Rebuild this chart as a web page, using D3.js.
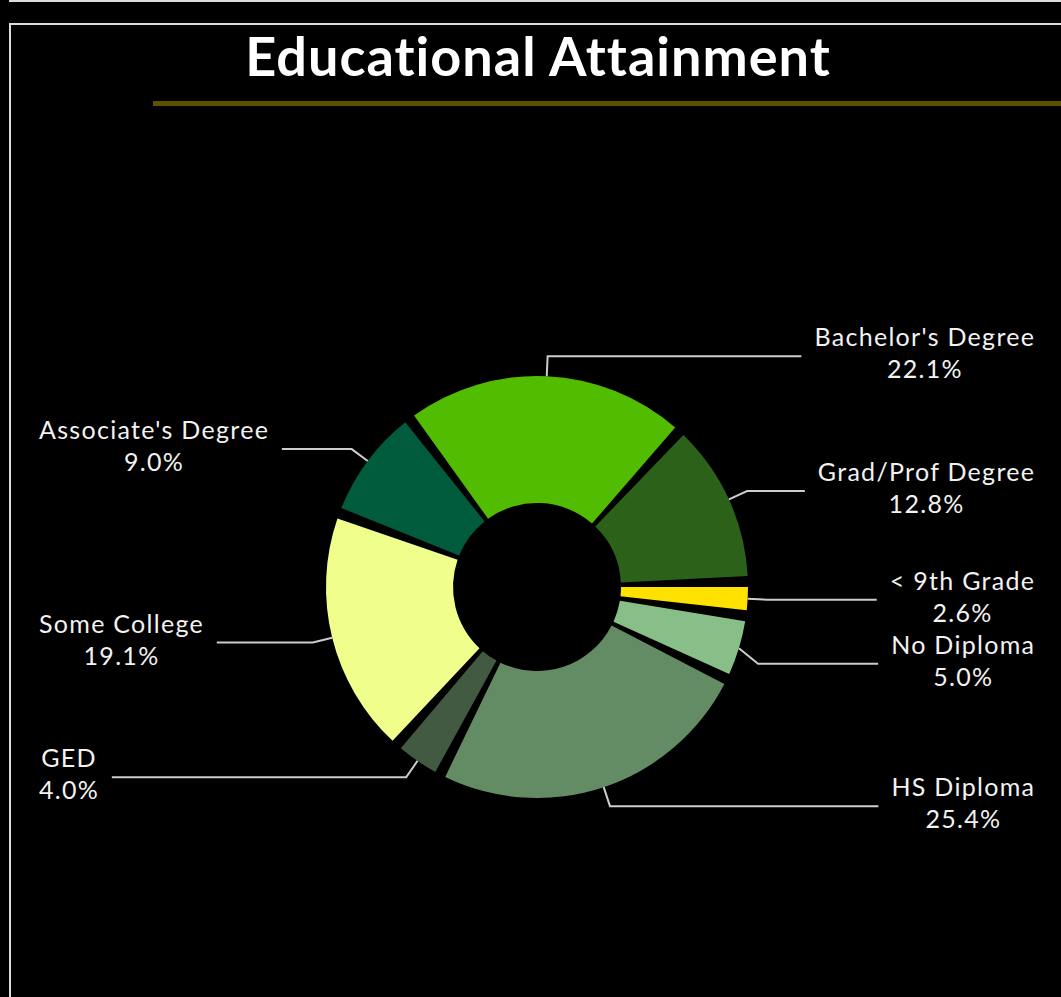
<!DOCTYPE html>
<html>
<head>
<meta charset="utf-8">
<script src="https://cdn.jsdelivr.net/npm/d3@7"></script>
<style>
  html, body { margin: 0; padding: 0; background: #000; }
  svg { display: block; }
  text { font-variant-ligatures: none; }
</style>
</head>
<body>
<svg id="chart" width="1061" height="997"></svg>
<script>
const title = "Educational Attainment";
const categories = ["< 9th Grade", "No Diploma", "HS Diploma", "GED", "Some College", "Associate's Degree", "Bachelor's Degree", "Grad/Prof Degree"];
const values = [2.6, 5.0, 25.4, 4.0, 19.1, 9.0, 22.1, 12.8];
const colors = ["#ffe100", "#88bf88", "#648c64", "#415a41", "#f0ff8c", "#005c3c", "#52bc00", "#2b6118"];

const W = 1061, H = 997;
const svg = d3.select("#chart");
const FONT = "Lato, 'Open Sans', sans-serif";

svg.append("rect").attr("width", W).attr("height", H).attr("fill", "#000");

// frame lines
svg.append("line").attr("x1", 9).attr("x2", W).attr("y1", 1).attr("y2", 1)
  .attr("stroke", "#dcdcdc").attr("stroke-width", 2);
svg.append("path").attr("d", `M${W + 5},24 H10 V${H + 5}`)
  .attr("fill", "none").attr("stroke", "#dcdcdc").attr("stroke-width", 2);

// title
svg.append("text").attr("x", 538).attr("y", 76)
  .attr("text-anchor", "middle")
  .attr("font-family", FONT).attr("font-weight", 700).attr("font-size", 54)
  .attr("letter-spacing", 1)
  .attr("fill", "#fff").text(title);
svg.append("rect").attr("x", 153).attr("y", 101).attr("width", W - 153).attr("height", 5)
  .attr("fill", "#5f5000");

// donut
const cx = 537, cy = 587, R = 211, r0 = 84, rElbow = 231;
const pad = 3 * Math.PI / 180;
const start = 88.5 * Math.PI / 180;

const data = categories.map((c, i) => ({ cat: c, value: values[i], color: colors[i] }));
const pie = d3.pie().sort(null).value(d => d.value)
  .startAngle(start).endAngle(start + 2 * Math.PI);
const arcs = pie(data);

const arc = d3.arc().innerRadius(r0).outerRadius(R)
  .startAngle(d => d.startAngle + pad / 2)
  .endAngle(d => d.endAngle - pad / 2);

const g = svg.append("g").attr("transform", `translate(${cx},${cy})`);
g.selectAll("path.slice").data(arcs).join("path")
  .attr("class", "slice")
  .attr("d", arc)
  .attr("fill", d => d.data.color);

// labels
const fmt = d3.format(".1f");
const labels = arcs.map(d => {
  const mid = (d.startAngle + d.endAngle) / 2;
  const sx = Math.sin(mid), sy = -Math.cos(mid);
  return {
    d, mid,
    side: sx >= 0 ? "right" : "left",
    p0: [cx + R * sx, cy + R * sy],
    ex: cx + rElbow * sx,
    y: cy + rElbow * sy
  };
});

const minGap = 64;
["right", "left"].forEach(side => {
  const arr = labels.filter(l => l.side === side).sort((a, b) => a.y - b.y);
  for (let i = 1; i < arr.length; i++) {
    if (arr[i].y - arr[i - 1].y < minGap) arr[i].y = arr[i - 1].y + minGap;
  }
});

const LS = 1.3;
const lg = svg.append("g");
labels.forEach(l => {
  const t = lg.append("text")
    .attr("font-family", FONT).attr("font-size", 25)
    .attr("letter-spacing", LS)
    .attr("fill", "#f2f2f2").attr("text-anchor", "middle");
  const t1 = t.append("tspan").attr("y", l.y - 10).text(l.d.data.cat);
  const t2 = t.append("tspan").attr("y", l.y + 22).text(fmt(l.d.data.value) + "%");
  const w = Math.max(t1.node().getComputedTextLength(), t2.node().getComputedTextLength()) - LS;
  let center, lineEnd;
  if (l.side === "right") {
    center = 1034 - w / 2;
    lineEnd = 1034 - w - 13;
  } else {
    center = 39 + w / 2;
    lineEnd = 39 + w + 14;
  }
  t1.attr("x", center + LS / 2);
  t2.attr("x", center + LS / 2);
  lg.append("polyline")
    .attr("points", [l.p0, [l.ex, l.y], [lineEnd, l.y]].map(p => p.join(",")).join(" "))
    .attr("fill", "none").attr("stroke", "#cccccc").attr("stroke-width", 2);
});
</script>
</body>
</html>
